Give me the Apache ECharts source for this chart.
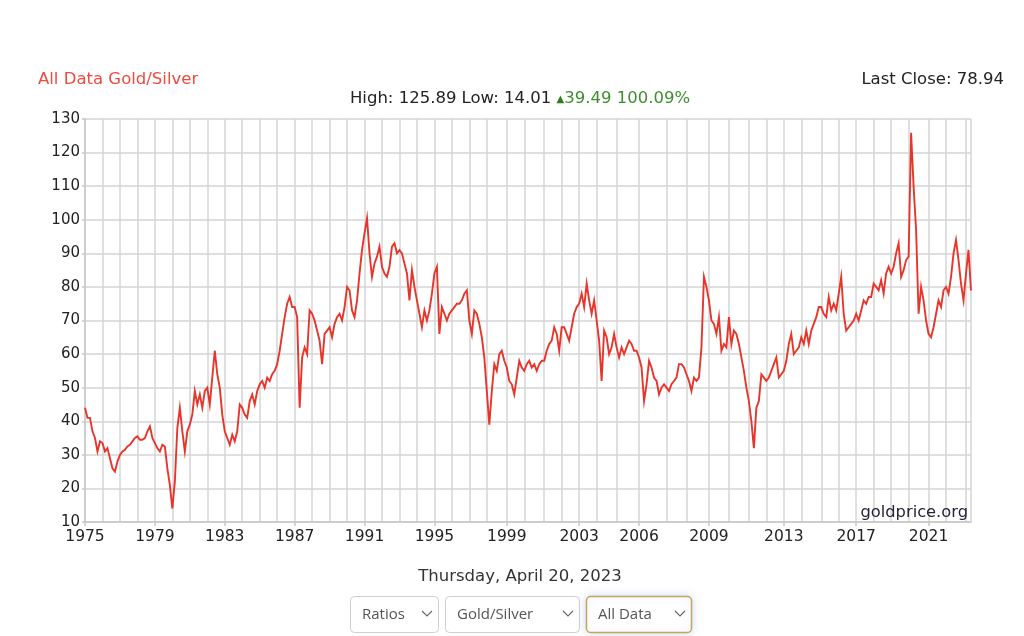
<!DOCTYPE html>
<html><head><meta charset="utf-8">
<script src="https://cdn.jsdelivr.net/npm/echarts@6/dist/echarts.min.js"></script>
<style>html,body{margin:0;padding:0;background:#fff}#c{width:1024px;height:636px}</style>
</head><body><div id="c"></div>
<script>
// ---- data (Gold/Silver ratio) ----
const years = [1975,1976,1977,1978,1979,1980,1981,1982,1983,1984,1985,1986,1987,1988,1989,1990,
  1991,1992,1993,1994,1995,1996,1997,1998,1999,2000,2001,2002,2003,2004,2005,2006,2007,2008,2009,
  2010,2011,2012,2013,2014,2015,2016,2017,2018,2019,2020,2021,2022,2023];
const ratios = [
  [44, 41, 41, 37, 35, 31, 34],
  [33.5, 31, 32, 29, 26, 25, 28],
  [30, 31, 31.5, 32.5, 33, 34, 35],
  [35.5, 34.5, 34.5, 35, 37, 38.5, 35],
  [33.5, 32, 31, 33, 32.5, 26, 21],
  [14.01, 22, 38, 44, 37, 31, 37],
  [39, 42, 49, 45, 48, 44, 49],
  [50, 45, 53, 61, 54, 50, 42],
  [37, 35, 33, 36, 34, 37, 45],
  [44, 42, 41, 46, 48, 45, 49],
  [51, 52, 50, 53, 52, 54, 55],
  [57, 61, 66, 71, 75, 77, 74],
  [74, 71, 44, 59, 62, 60, 73],
  [72, 70, 67, 64, 57, 66, 67],
  [68, 65, 69, 71, 72, 70, 74],
  [80, 79, 73, 71, 76, 84, 91],
  [96, 100.5, 90, 83, 87, 89, 92],
  [86, 84, 83, 86, 92, 93, 90],
  [91, 90, 87, 84, 76, 85, 80],
  [76, 72, 68, 73, 70, 73, 78],
  [84, 86, 66, 74, 72, 70, 72],
  [73, 74, 75, 75, 76, 78, 79],
  [70, 66, 73, 72, 69, 65, 59],
  [49, 39, 49, 57, 55, 60, 61, 58],
  [56, 52, 51, 48, 53, 58, 56],
  [55, 57, 58, 56, 57, 55, 57, 58],
  [58, 61, 63, 64, 68, 66, 61],
  [68, 68, 66, 64, 68, 72, 74],
  [75, 78, 74, 81, 76, 72, 76],
  [70, 64, 52, 67, 65, 60, 62, 66],
  [62, 59, 62, 60, 62, 64, 63, 61, 61],
  [59, 56, 46, 51, 58, 56, 53, 52, 48, 50, 51],
  [50, 49, 51, 52, 53, 57, 57, 56],
  [54, 52, 49, 53, 52, 53, 62, 83, 80],
  [76, 70, 69, 66, 71, 61, 63, 62],
  [71, 63, 67, 66, 63, 59, 55, 50],
  [46, 40, 32, 44, 46, 54, 53],
  [52, 53, 55, 57, 59, 53, 54],
  [55, 58, 63, 66, 60, 61, 62],
  [65, 63, 67, 63, 67, 69, 71, 74],
  [74, 72, 71, 77, 73, 75, 73],
  [78, 83, 72, 67, 68, 69, 70],
  [72, 70, 73, 76, 75, 77, 77],
  [81, 80, 79, 82, 78, 84, 86],
  [84, 86, 90, 93, 83, 85, 88],
  [89, 125.89, 110, 97, 72, 80, 76, 70],
  [66, 65, 68, 72, 76, 74, 79],
  [80, 78, 83, 90, 94, 88, 81, 76],
  [84, 91, 78.94]
];
const labelYears = [1975,1979,1983,1987,1991,1995,1999,2003,2006,2009,2013,2017,2021];
const yMin = 10, yMax = 130, yStep = 10;

// ---- build category axis (one category per sample) ----
const categories = [], values = [], yearStart = new Set(), labelIdx = new Set();
years.forEach((y, i) => {
  ratios[i].forEach((v, k) => {
    if (k === 0) { yearStart.add(categories.length); if (labelYears.includes(y)) labelIdx.add(categories.length); }
    categories.push(y + '-' + (k + 1));
    values.push(v);
  });
});
const lastIdx = categories.length - 1;

const FONT = 'DejaVu Sans';
const chart = echarts.init(document.getElementById('c'), null, {renderer: 'canvas'});
const grid = {left: 85, right: 53, top: 119, bottom: 114};

function chevron(x) {
  return {type: 'polyline', shape: {points: [[x, 611], [x + 5, 616], [x + 10, 611]]},
    style: {stroke: '#666', lineWidth: 1.1, fill: null}};
}
function box(x, w, label, gold) {
  return [
    {type: 'rect', shape: {x: x + 0.5, y: 596.5, width: w, height: 36, r: 4},
      style: gold ? {fill: '#fff', stroke: '#c9a55c', lineWidth: 1.5, shadowBlur: 8, shadowColor: 'rgba(120,160,230,0.35)'}
                  : {fill: '#fff', stroke: '#cfcfcf', lineWidth: 1}},
    {type: 'text', x: x + 12, y: 614.5, style: {text: label, font: '15px "Open Sans"', fill: '#555', textVerticalAlign: 'middle'}},
    chevron(x + w - 16)
  ];
}

chart.setOption({
  animation: false,
  backgroundColor: '#fff',
  grid: grid,
  xAxis: {
    type: 'category', data: categories, boundaryGap: false,
    axisLine: {show: true, lineStyle: {color: '#c8c8c8', width: 1.5}},
    axisTick: {show: true, length: 4, interval: (i) => labelIdx.has(i), lineStyle: {color: '#c8c8c8', width: 1.5}},
    axisLabel: {interval: (i) => labelIdx.has(i), formatter: (v) => v.split('-')[0],
      color: '#222', fontFamily: FONT, fontSize: 15.5, margin: 7},
    splitLine: {show: true, interval: (i) => yearStart.has(i) || i === lastIdx, lineStyle: {color: '#d4d4d4', width: 1.5}}
  },
  yAxis: {
    type: 'value', min: yMin, max: yMax, interval: yStep,
    axisLine: {show: true, lineStyle: {color: '#c8c8c8', width: 1.5}},
    axisTick: {show: true, length: 3, lineStyle: {color: '#c8c8c8', width: 1.5}},
    axisLabel: {color: '#222', fontFamily: FONT, fontSize: 15, margin: 5},
    splitLine: {show: true, lineStyle: {color: '#d4d4d4', width: 1.5}}
  },
  series: [{
    type: 'line', data: values, showSymbol: false, symbol: 'none', sampling: null,
    lineStyle: {color: '#e8352b', width: 1.9, join: 'miter'}
  }],
  graphic: [
    {type: 'text', x: 38, y: 80, style: {text: 'All Data Gold/Silver', font: '16.5px "DejaVu Sans"', fill: '#f04a3e', textVerticalAlign: 'middle'}},
    {type: 'text', x: 1004, y: 80, style: {text: 'Last Close: 78.94', font: '16.5px "DejaVu Sans"', fill: '#222', textAlign: 'right', textVerticalAlign: 'middle'}},
    {type: 'text', x: 520, y: 99, style: {
      text: '{a|High: 125.89 Low: 14.01 }{t|▲}{g|39.49 100.09%}',
      textAlign: 'center', textVerticalAlign: 'middle',
      rich: {
        a: {fill: '#222', fontSize: 16.5, fontFamily: FONT},
        t: {fill: '#2e7d1e', fontSize: 10, fontFamily: FONT},
        g: {fill: '#3f8f2f', fontSize: 16.5, fontFamily: FONT}
      }}},
    {type: 'text', x: 968, y: 513, z: 10, style: {text: 'goldprice.org', font: '16.3px "DejaVu Sans"', fill: '#24243a', textAlign: 'right', textVerticalAlign: 'middle'}},
    {type: 'text', x: 520, y: 577, style: {text: 'Thursday, April 20, 2023', font: '16.5px "DejaVu Sans"', fill: '#333', textAlign: 'center', textVerticalAlign: 'middle'}},
    ...box(350, 88, 'Ratios', false),
    ...box(445, 134, 'Gold/Silver', false),
    ...box(586, 105, 'All Data', true)
  ]
});
</script></body></html>
